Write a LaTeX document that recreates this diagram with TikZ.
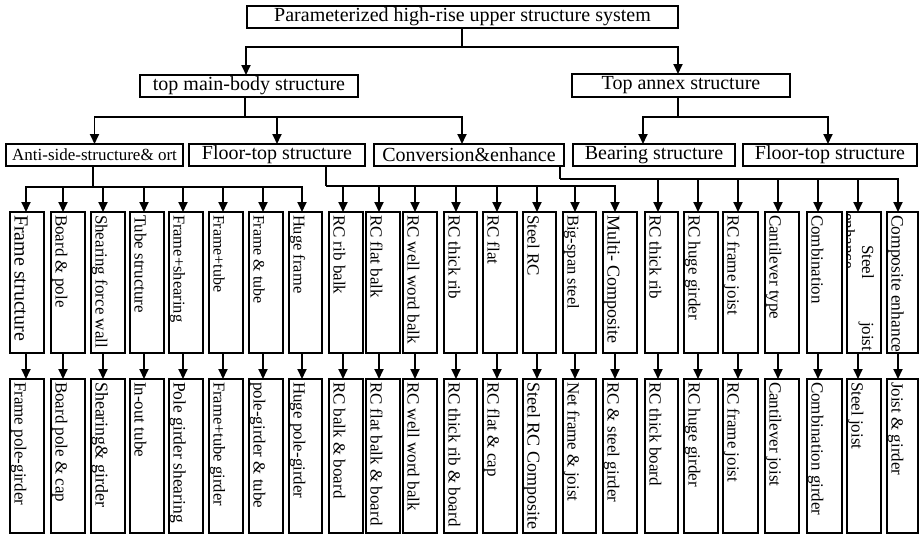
\documentclass[tikz,border=0pt]{standalone}
\usepackage{fontspec}
\setmainfont{Liberation Serif}
\usetikzlibrary{arrows.meta}
\newcommand{\fsz}[1]{\fontsize{#1}{#1}\selectfont}
\tikzset{
  box/.style={draw, line width=1.5pt, inner sep=0pt, outer sep=0pt, fill=white},
  hbox/.style={box, minimum height=22pt, font=\fsz{20}},
  vtxt/.style={rotate=-90, anchor=base west, inner sep=0pt, outer sep=0pt, font=\fsz{17}},
  ln/.style={line width=1.8pt},
  arr/.style={line width=1.8pt, -{Triangle[length=10pt,width=9pt]}},
}
\newcommand{\mycol}[7]{%
  \coordinate (x#1) at (#4,0);
  \node[box, minimum width={#3-#2}, minimum height=141] (b#1) at ({(#2+#3)/2},282.5) {};
  \node[box, minimum width={#3-#2}, minimum height=154] (d#1) at ({(#2+#3)/2},456) {};
  \node[vtxt] (t#1) at ([xshift=4.5pt,yshift=-3pt]b#1.north west) {#6};
  \node[vtxt] (u#1) at ([xshift=4.5pt,yshift=-3pt]d#1.north west) {#7};
  \draw[arr] (#5) -| (b#1.north -| x#1);
  \draw[arr] (b#1.south -| x#1) -- (d#1.north -| x#1);
}
\begin{document}
\begin{tikzpicture}[x=1pt,y=-1pt]
\useasboundingbox (0,0) rectangle (922,536);
% level 1
\node[hbox, minimum width=431] (top) at (462.5,17) {Parameterized high-rise upper structure system};
% level 2
\node[hbox, minimum width=218] (main) at (249,86) {top main-body structure};
\node[hbox, minimum width=218, minimum height=23pt] (annex) at (681,85.5) {Top annex structure};
% level 3
\node[hbox, minimum width=177, font=\fsz{17}] (anti) at (94.5,155) {Anti-side-structure\& ort};
\node[hbox, minimum width=176] (floorL) at (277,155) {Floor-top structure};
\node[hbox, minimum width=190] (conv) at (469,155) {Conversion\&enhance};
\node[hbox, minimum width=162] (bear) at (654,155) {Bearing structure};
\node[hbox, minimum width=174] (floorR) at (830,155) {Floor-top structure};
% level 1 -> 2
\coordinate (bus0) at (462,47);
\draw[ln] (top.south -| bus0) -- (bus0);
\draw[arr] (bus0) -| ([xshift=-3pt]main.north);
\draw[arr] (bus0) -| ([xshift=-3pt]annex.north);
% level 2 -> 3
\coordinate (busM) at (245,117);
\draw[ln] (main.south -| busM) -- (busM);
\draw[arr] (busM) -| (anti.north);
\draw[arr] (busM) -| (floorL.north);
\draw[arr] (busM) -| ([xshift=-7pt]conv.north);
\coordinate (busN) at (678,117);
\draw[ln] (annex.south -| busN) -- (busN);
\draw[arr] (busN) -| ([xshift=-11pt]bear.north);
\draw[arr] (busN) -| ([xshift=-2pt]floorR.north);
% level 3 buses
\coordinate (busA) at (93,187);
\draw[ln] (anti.south -| busA) -- (busA);
\coordinate (busF) at (326,186);
\draw[ln] (floorL.south -| busF) -- (busF);
\coordinate (busC) at (560,179);
\draw[ln] (conv.south -| busC) -- (busC);
% columns
\mycol{1}{10}{44}{26}{busA}{\fsz{20}Frame structure}{Frame pole-girder}
\mycol{2}{51}{85}{63}{busA}{Board \& pole}{Board pole \& cap}
\mycol{3}{91}{125}{103}{busA}{Shearing force wall}{\fsz{18}Shearing\& girder}
\mycol{4}{130}{164}{144}{busA}{Tube structure}{In-out tube}
\mycol{5}{169}{203}{183}{busA}{\fsz{16.5}Frame+shearing}{\fsz{17.5}Pole girder shearing}
\mycol{6}{209}{243}{223}{busA}{\fsz{16}Frame+tube}{\fsz{16.6}Frame+tube girder}
\mycol{7}{249}{283}{263}{busA}{\fsz{16}Frame \& tube}{pole-girder \& tube}
\mycol{8}{289}{322}{302}{busA}{\fsz{16.5}Huge frame}{Huge pole-girder}
\mycol{9}{329}{363}{343}{busF}{RC rib balk}{RC balk \& board}
\mycol{10}{366}{400}{379}{busF}{RC flat balk}{RC flat balk \& board}
\mycol{11}{403}{437}{415}{busF}{RC well word balk}{RC well word balk}
\mycol{12}{444}{477}{456}{busF}{RC thick rib}{RC thick rib \& board}
\mycol{13}{483}{517}{497}{busF}{RC flat}{RC flat \& cap}
\mycol{14}{523}{556}{537}{busF}{Steel RC}{\fsz{18}Steel RC Composite}
\mycol{15}{563}{596}{575}{busF}{\fsz{16.5}Big-span steel}{Net frame \& joist}
\mycol{16}{603}{637}{615}{busF}{\fsz{18}Multi- Composite}{RC \& steel girder}
\mycol{17}{645}{678}{658}{busC}{RC thick rib}{RC thick board}
\mycol{18}{684}{718}{698}{busC}{RC huge girder}{RC huge girder}
\mycol{19}{723}{758}{738}{busC}{RC frame joist}{RC frame joist}
\mycol{20}{765}{799}{778}{busC}{Cantilever type}{Cantilever joist}
\mycol{21}{807}{842}{818}{busC}{Combination}{Combination girder}
\mycol{22}{847}{881}{858}{busC}{}{Steel joist}
\mycol{23}{887}{918}{898}{busC}{\fsz{17.5}Composite enhance}{Joist \& girder}
% special text of column 22
\begin{scope}
  \clip (b22.north west) rectangle (b22.south east);
  \node[vtxt] (t22a) at ([xshift=-4pt,yshift=-1pt]b22.north west) {enhance};
\end{scope}
\node[vtxt] (t22b) at ([xshift=15pt,yshift=-33pt]b22.north west) {Steel};
\node[vtxt] (t22c) at ([xshift=15pt,yshift=-110pt]b22.north west) {joist};
\end{tikzpicture}
\end{document}
